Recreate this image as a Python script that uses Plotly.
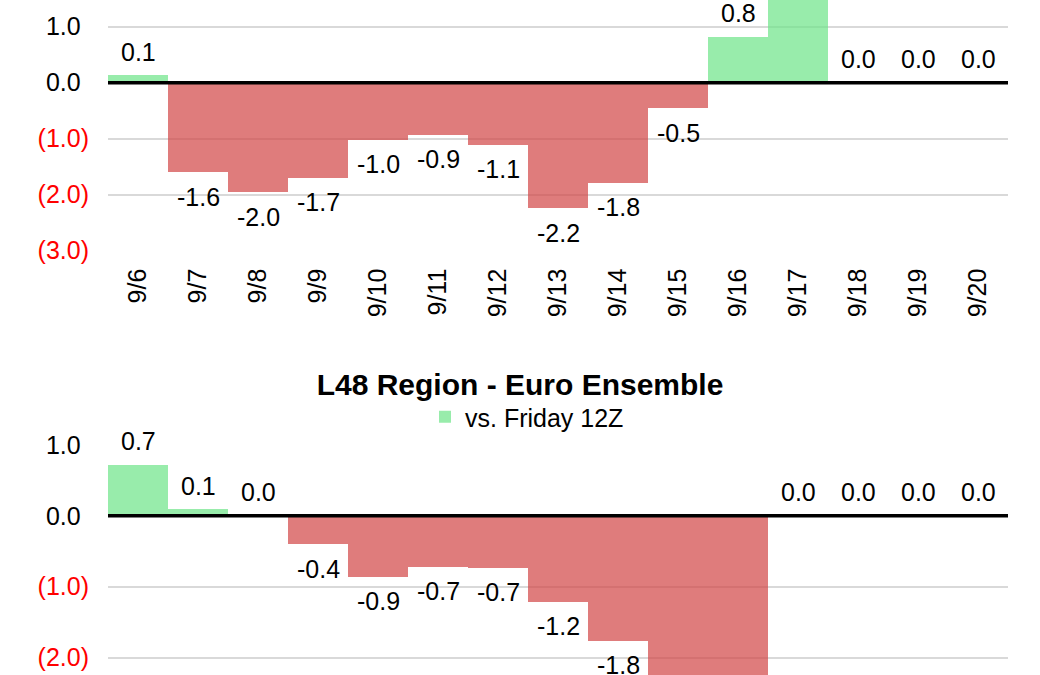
import plotly.graph_objects as go

# ---------------- data ----------------
dates = ["9/6", "9/7", "9/8", "9/9", "9/10", "9/11", "9/12", "9/13",
         "9/14", "9/15", "9/16", "9/17", "9/18", "9/19", "9/20"]

# upper panel (title cut off in the reference)
upper_vals = [0.13, -1.6, -1.96, -1.7, -1.02, -0.93, -1.11, -2.24,
              -1.79, -0.46, 0.82, 1.9, 0.0, 0.0, 0.0]

# lower panel: L48 Region - Euro Ensemble, vs. Friday 12Z
euro_vals = [0.72, 0.09, 0.0, -0.4, -0.86, -0.72, -0.73, -1.21,
             -1.76, -2.6, -2.8, 0.0, 0.0, 0.0, 0.0]

upper_ticks = [1.0, 0.0, -1.0, -2.0, -3.0]
lower_ticks = [1.0, 0.0, -1.0, -2.0]

series_name = "vs. Friday 12Z"
chart_title = "L48 Region - Euro Ensemble"

# ---------------- styling ----------------
FONT = "Liberation Sans"
FS = 25
GREEN = "rgba(108,228,136,0.70)"
RED = "rgba(209,69,69,0.70)"
GRID = "#d9d9d9"

W, H = 1040, 675
ML, MR = 108, 32


def tick_text(v):
    if v < 0:
        return '<span style="color:#ff0000">(%.1f)</span>' % abs(v)
    return '%.1f<span style="color:rgba(0,0,0,0)">)</span>' % v


def colors(vals):
    return [GREEN if v >= 0 else RED for v in vals]


fig = go.Figure()

fig.add_trace(go.Bar(x=dates, y=upper_vals, marker=dict(color=colors(upper_vals), line=dict(width=0)),
                     xaxis="x", yaxis="y", showlegend=False, name=series_name, hoverinfo="x+y"))
fig.add_trace(go.Bar(x=dates, y=euro_vals, marker=dict(color=colors(euro_vals), line=dict(width=0)),
                     xaxis="x2", yaxis="y2", showlegend=True, name=series_name, hoverinfo="x+y"))

# data labels
annotations = []
for vals, xr, yr in [(upper_vals, "x", "y"), (euro_vals, "x2", "y2")]:
    for d, v in zip(dates, vals):
        pos = v >= 0
        annotations.append(dict(
            x=d, y=v, xref=xr, yref=yr, text="%.1f" % v, showarrow=False,
            yanchor="bottom" if pos else "top", xanchor="center",
            yshift=8.5 if pos else -9.5, borderpad=0,
            font=dict(family=FONT, size=FS, color="#000000")))

top_px = 250.7
bot_px = 230.0

axis_common = dict(showgrid=True, gridcolor=GRID, gridwidth=1.5, zeroline=False,
                   ticks="", showline=False,
                   tickfont=dict(family=FONT, size=FS, color="#000000"))

fig.update_layout(
    width=W, height=H,
    margin=dict(l=ML, r=MR, t=0, b=0, autoexpand=False),
    paper_bgcolor="white", plot_bgcolor="white",
    bargap=0,
    font=dict(family=FONT, size=FS, color="#000000"),
    xaxis=dict(domain=[0, 1], anchor="y", type="category", showgrid=False, zeroline=False,
               ticks="", tickangle=-90, ticklabelstandoff=12,
               tickfont=dict(family=FONT, size=FS, color="#000000"), automargin=False),
    yaxis=dict(domain=[1 - top_px / H, 1], anchor="x", range=[-3.0, 1.477],
               tickvals=upper_ticks, ticktext=[tick_text(v) for v in upper_ticks],
               ticklabelstandoff=18, automargin=False, **axis_common),
    xaxis2=dict(domain=[0, 1], anchor="y2", type="category", showgrid=False, zeroline=False,
                ticks="", showticklabels=False, automargin=False),
    yaxis2=dict(domain=[0, bot_px / H], anchor="x2", range=[-2.247, 1.0],
                tickvals=lower_ticks, ticktext=[tick_text(v) for v in lower_ticks],
                ticklabelstandoff=18, automargin=False, **axis_common),
    title=dict(text="<b>%s</b>" % chart_title, x=0.5, xref="container", xanchor="center",
               y=1 - 384 / H, yref="container", yanchor="middle",
               font=dict(family=FONT, size=30, color="#000000")),
    showlegend=True,
    legend=dict(orientation="h", x=(425 - ML) / 900, xanchor="left",
                y=1 - 417 / H, yanchor="middle", bgcolor="rgba(0,0,0,0)",
                font=dict(family=FONT, size=FS, color="#000000")),
    annotations=annotations,
    shapes=[
        dict(type="line", xref="x domain", yref="y", x0=0, x1=1, y0=0, y1=0,
             line=dict(color="#000000", width=3.5), layer="above"),
        dict(type="line", xref="x2 domain", yref="y2", x0=0, x1=1, y0=0, y1=0,
             line=dict(color="#000000", width=3.5), layer="above"),
    ],
)

fig.write_html("out.html")
